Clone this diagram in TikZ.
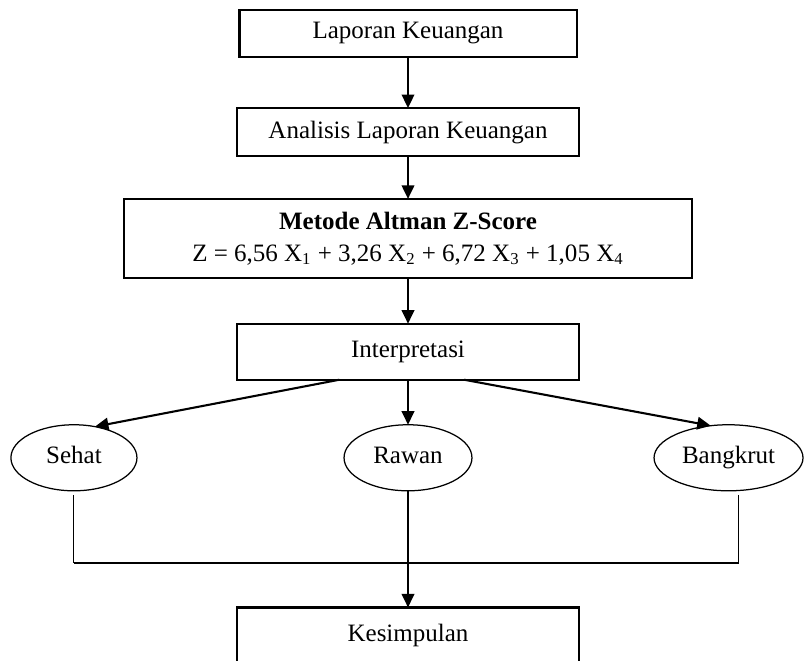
\documentclass[tikz,border=0pt]{standalone}
\usepackage{fontspec}
\setmainfont{Liberation Serif}
\usetikzlibrary{shapes.geometric, arrows.meta, positioning}

\begin{document}
\begin{tikzpicture}[
    x=0.48pt, y=-0.48pt,
    every node/.style={font=\fontsize{12}{15.4}\selectfont},
    box/.style={rectangle, draw=black, line width=1pt, outer sep=0pt, minimum width=164pt, minimum height=23pt, align=center, inner sep=2pt},
    hasil/.style={ellipse, draw=black, line width=0.6pt, outer sep=0pt, minimum height=31.7pt, inner sep=1pt, text height=1.6ex, text depth=0.5ex},
    arrow/.style={-{Triangle[length=6.5pt, width=6pt]}, line width=1pt},
    garis/.style={line width=0.5pt}
]
\useasboundingbox (0,0) rectangle (804,660);

% --- Alur utama ---
\node[box, minimum width=161.8pt, minimum height=22.6pt] (lapkeu) at (408,33.5) {Laporan Keuangan};
\node[box, below=24.5pt of lapkeu] (analisis) {Analisis Laporan Keuangan};
\node[box, below=20.6pt of analisis, minimum width=272.6pt, minimum height=37.9pt] (altman) {\textbf{Metode Altman Z-Score}\\Z = 6,56 X\textsubscript{1} + 3,26 X\textsubscript{2} + 6,72 X\textsubscript{3} + 1,05 X\textsubscript{4}};
\node[box, below=22pt of altman, minimum height=26.9pt] (interpretasi) {Interpretasi};

\draw[arrow] (lapkeu) -- (analisis);
\draw[arrow] (analisis) -- (altman);
\draw[arrow] (altman) -- (interpretasi);

% --- Kategori hasil ---
\node[hasil, below=21.6pt of interpretasi, minimum width=61.4pt] (rawan) {Rawan};
\node[hasil, left=99.4pt of rawan, minimum width=60.5pt] (sehat) {Sehat};
\node[hasil, right=87.4pt of rawan, minimum width=71.5pt] (bangkrut) {Bangkrut};

\draw[arrow] ([xshift=-33pt]interpretasi.south) -- (sehat.56);
\draw[arrow] (interpretasi) -- (rawan);
\draw[arrow] ([xshift=27pt]interpretasi.south) -- (bangkrut.119);

% --- Kesimpulan ---
\node[box, below=56pt of rawan, minimum height=26.9pt] (kesimpulan) {Kesimpulan};

\coordinate[below=34.6pt of sehat.south] (gabungL);
\coordinate[xshift=4.8pt] (bkBawah) at (bangkrut.south);
\coordinate (gabungR) at (bkBawah |- gabungL);

\draw[garis, shorten <=2pt] (sehat.south) -- (gabungL);
\draw[garis, shorten <=2pt] (bkBawah) -- (gabungR);
\draw[line width=1pt] (gabungL) -- (gabungR);
\draw[arrow] (rawan) -- (kesimpulan);
\end{tikzpicture}
\end{document}
